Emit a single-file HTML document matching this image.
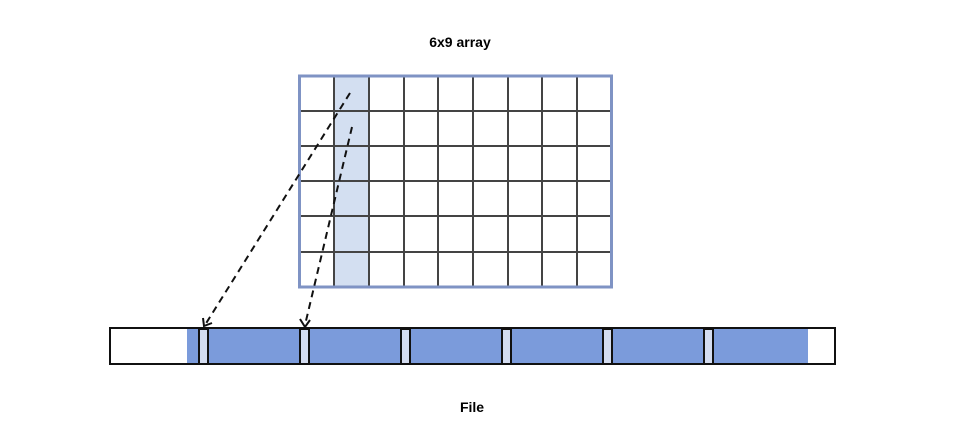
<!DOCTYPE html>
<html><head><style>body{margin:0;background:#fff;width:953px;height:427px;overflow:hidden}</style></head>
<body>
<svg width="953" height="427" xmlns="http://www.w3.org/2000/svg">
<text x="460" y="47" text-anchor="middle" font-family="Liberation Sans, sans-serif" font-weight="bold" font-size="14">6x9 array</text>
<rect x="334" y="76" width="35" height="211" fill="#d3dff1"/>
<g stroke="#444" stroke-width="2" fill="none">
<line x1="334" y1="76" x2="334" y2="287"/><line x1="369" y1="76" x2="369" y2="287"/>
<line x1="404" y1="76" x2="404" y2="287"/><line x1="438" y1="76" x2="438" y2="287"/>
<line x1="473" y1="76" x2="473" y2="287"/><line x1="508" y1="76" x2="508" y2="287"/>
<line x1="542" y1="76" x2="542" y2="287"/><line x1="577" y1="76" x2="577" y2="287"/>
<line x1="299" y1="111" x2="612" y2="111"/><line x1="299" y1="146" x2="612" y2="146"/>
<line x1="299" y1="181" x2="612" y2="181"/><line x1="299" y1="216" x2="612" y2="216"/>
<line x1="299" y1="252" x2="612" y2="252"/>
</g>
<rect x="299.5" y="76" width="312" height="211" fill="none" stroke="#7f93c4" stroke-width="3"/>
<rect x="110" y="328" width="725" height="36" fill="#fff" stroke="#111" stroke-width="2"/>
<rect x="187" y="329" width="621" height="34" fill="#7b9bdb"/>
<g fill="#d3dcf0" stroke="#111" stroke-width="2">
<rect x="199" y="329" width="9" height="35"/><rect x="300" y="329" width="9" height="35"/>
<rect x="401" y="329" width="9" height="35"/><rect x="502" y="329" width="9" height="35"/>
<rect x="603" y="329" width="9" height="35"/><rect x="704" y="329" width="9" height="35"/>
</g>
<g stroke="#111" stroke-width="2" fill="none" stroke-dasharray="7,5">
<line x1="350" y1="93" x2="205" y2="325"/>
<line x1="352" y1="127" x2="305" y2="325"/>
</g>
<g stroke="#111" stroke-width="2" fill="none">
<polyline points="203,318 204,326 212,323"/>
<polyline points="300,319 305,327 310,320"/>
</g>
<text x="472" y="412" text-anchor="middle" font-family="Liberation Sans, sans-serif" font-weight="bold" font-size="14">File</text>
</svg>
</body></html>
